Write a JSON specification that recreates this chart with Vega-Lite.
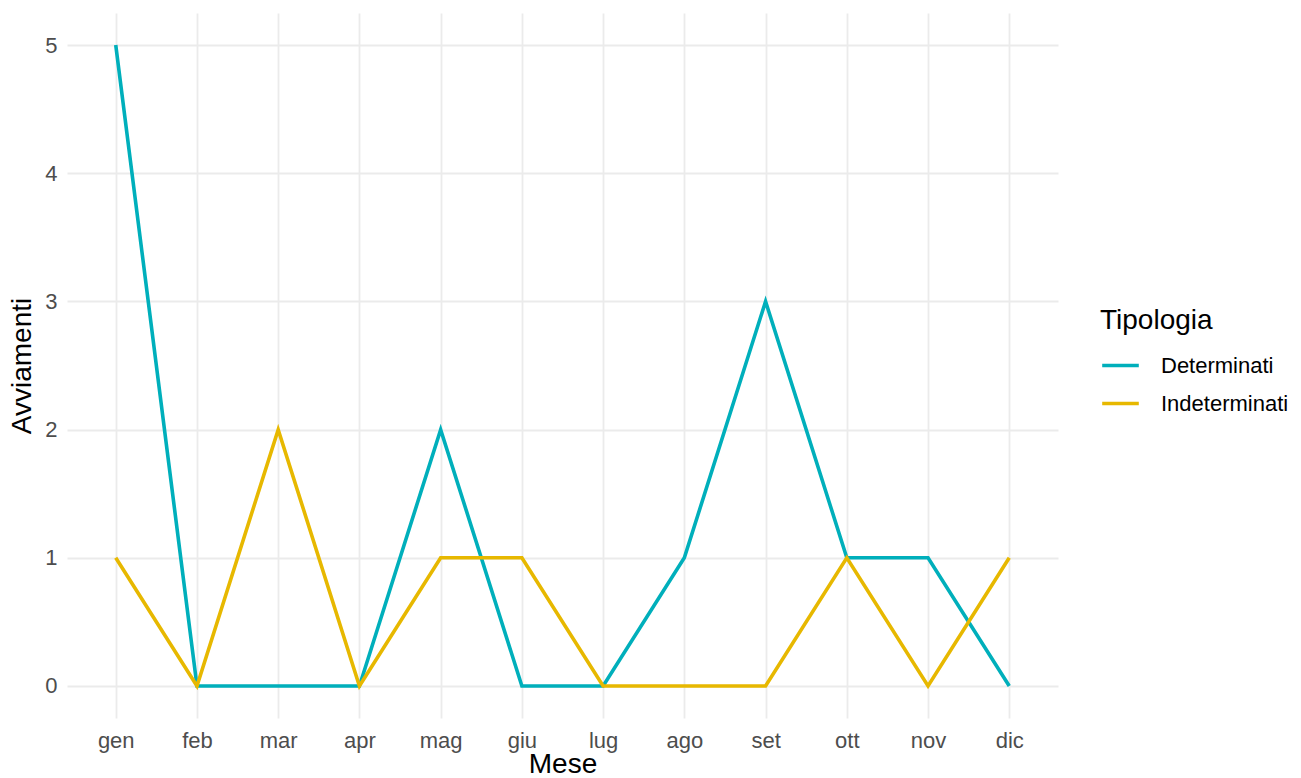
{
  "$schema": "https://vega.github.io/schema/vega-lite/v6.json",
  "width": 991,
  "height": 705,
  "autosize": {"type": "none"},
  "padding": {"left": 67, "top": 13, "right": 243, "bottom": 60},
  "background": "white",
  "config": {
    "view": {"stroke": null},
    "font": "Liberation Sans",
    "axis": {
      "domain": false,
      "ticks": false,
      "gridColor": "#EBEBEB",
      "gridWidth": 1.8,
      "labelColor": "#4D4D4D",
      "labelFontSize": 22,
      "labelFont": "Liberation Sans",
      "titleFont": "Liberation Sans",
      "titleFontSize": 28,
      "titleFontWeight": "normal",
      "titleColor": "#000000"
    }
  },
  "data": {
    "values": [
      {"mese": "gen", "tipologia": "Determinati", "n": 5},
      {"mese": "feb", "tipologia": "Determinati", "n": 0},
      {"mese": "mar", "tipologia": "Determinati", "n": 0},
      {"mese": "apr", "tipologia": "Determinati", "n": 0},
      {"mese": "mag", "tipologia": "Determinati", "n": 2},
      {"mese": "giu", "tipologia": "Determinati", "n": 0},
      {"mese": "lug", "tipologia": "Determinati", "n": 0},
      {"mese": "ago", "tipologia": "Determinati", "n": 1},
      {"mese": "set", "tipologia": "Determinati", "n": 3},
      {"mese": "ott", "tipologia": "Determinati", "n": 1},
      {"mese": "nov", "tipologia": "Determinati", "n": 1},
      {"mese": "dic", "tipologia": "Determinati", "n": 0},
      {"mese": "gen", "tipologia": "Indeterminati", "n": 1},
      {"mese": "feb", "tipologia": "Indeterminati", "n": 0},
      {"mese": "mar", "tipologia": "Indeterminati", "n": 2},
      {"mese": "apr", "tipologia": "Indeterminati", "n": 0},
      {"mese": "mag", "tipologia": "Indeterminati", "n": 1},
      {"mese": "giu", "tipologia": "Indeterminati", "n": 1},
      {"mese": "lug", "tipologia": "Indeterminati", "n": 0},
      {"mese": "ago", "tipologia": "Indeterminati", "n": 0},
      {"mese": "set", "tipologia": "Indeterminati", "n": 0},
      {"mese": "ott", "tipologia": "Indeterminati", "n": 1},
      {"mese": "nov", "tipologia": "Indeterminati", "n": 0},
      {"mese": "dic", "tipologia": "Indeterminati", "n": 1}
    ]
  },
  "mark": {"type": "line", "strokeWidth": 3.6, "strokeJoin": "miter", "strokeCap": "butt"},
  "encoding": {
    "x": {
      "field": "mese",
      "type": "ordinal",
      "sort": ["gen", "feb", "mar", "apr", "mag", "giu", "lug", "ago", "set", "ott", "nov", "dic"],
      "scale": {"type": "point", "padding": 0.6},
      "axis": {"title": "Mese", "labelAngle": 0, "labelPadding": 12, "titlePadding": -1, "grid": true}
    },
    "y": {
      "field": "n",
      "type": "quantitative",
      "scale": {"domain": [-0.25, 5.25], "nice": false, "zero": false},
      "axis": {"title": "Avviamenti", "values": [0, 1, 2, 3, 4, 5], "labelPadding": 10, "titlePadding": 8}
    },
    "color": {
      "field": "tipologia",
      "type": "nominal",
      "scale": {"domain": ["Determinati", "Indeterminati"], "range": ["#00AFBB", "#E7B800"]},
      "legend": {
        "title": "Tipologia",
        "orient": "none",
        "legendX": 1033,
        "legendY": 294,
        "titleFontSize": 28,
        "titleFontWeight": "normal",
        "titleColor": "#000000",
        "titlePadding": 10,
        "labelFontSize": 22,
        "labelColor": "#000000",
        "labelOffset": 20,
        "symbolType": "stroke",
        "symbolStrokeWidth": 3.6,
        "symbolSize": 1340,
        "rowPadding": 6
      }
    },
    "order": {"field": "tipologia"}
  }
}
